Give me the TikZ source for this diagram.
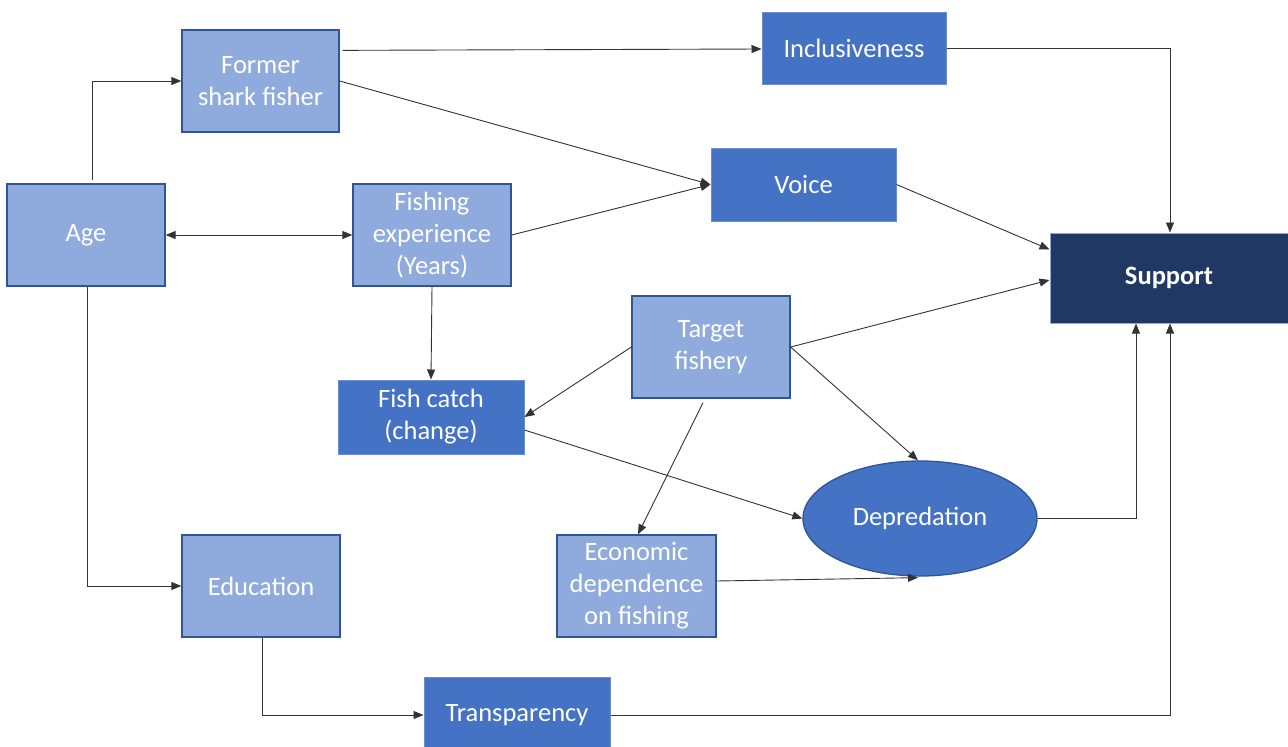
\documentclass[tikz,border=0pt]{standalone}
\usepackage{fontspec}
\setmainfont{Carlito}
\usetikzlibrary{arrows.meta,calc,shapes.geometric}
\definecolor{lightb}{HTML}{8FAADC}
\definecolor{midb}{HTML}{4472C4}
\definecolor{darkb}{HTML}{203864}
\definecolor{edgeb}{HTML}{2F5597}
\begin{document}
\begin{tikzpicture}[x=1pt,y=-1pt,
 every node/.style={font=\fontsize{26.5}{32}\selectfont, text=white, align=center, inner sep=0pt},
 lbox/.style={rectangle, fill=lightb, draw=edgeb, line width=1.3pt},
 mbox/.style={rectangle, fill=midb, draw=lightb!50!midb, line width=1pt},
 sbox/.style={rectangle, fill=darkb, draw=lightb, line width=1pt, font=\fontsize{26.5}{32}\selectfont\bfseries},
 ebox/.style={ellipse, fill=midb, draw=edgeb, line width=1.3pt},
 tip/.style={Triangle[length=10pt,width=8pt]},
 conn/.style={draw=black!80, line width=0.9pt, -{Triangle[length=10pt,width=8pt]}},
]
\useasboundingbox[fill=white] (0,0) rectangle (1288,747);

\node[lbox, minimum width=157pt, minimum height=102pt] (former) at (260.5,81) {Former\\shark fisher};
\node[lbox, minimum width=158pt, minimum height=102pt] (age) at (86,235) {Age};
\node[lbox, minimum width=158pt, minimum height=102pt] (fexp) at (432,235) {Fishing\\experience\\(Years)};
\node[mbox, minimum width=184pt, minimum height=72pt] (incl) at (854,48) {Inclusiveness};
\node[mbox, minimum width=185pt, minimum height=73pt] (voice) at (803.5,184.5) {Voice};
\node[sbox, minimum width=238pt, minimum height=90pt] (support) at (1169,278) {Support};
\node[lbox, minimum width=158pt, minimum height=102pt] (target) at (711,347) {Target\\fishery};
\node[mbox, minimum width=186pt, minimum height=74pt] (catch) at (431,417) {Fish catch\\(change)};
\node[ebox, minimum width=234pt, minimum height=115pt] (depr) at (920,518.5) {Depredation};
\node[lbox, minimum width=159pt, minimum height=102pt] (econ) at (636.5,586) {Economic\\dependence\\on fishing};
\node[lbox, minimum width=158pt, minimum height=102pt] (edu) at (261,586) {Education};
\node[mbox, minimum width=186pt, minimum height=76pt] (transp) at (517,715) {Transparency};

\draw[conn] ($(age.north)+(6,-3)$) |- (former.west);
\draw[conn, {Triangle[length=10pt,width=8pt]}-{Triangle[length=10pt,width=8pt]}] (age.east) -- (fexp.west);
\draw[conn] ($(age.south)+(1,0)$) |- (edu.west);
\draw[conn] ($(edu.south)+(1,0)$) |- (transp.west);
\draw[conn] (transp.east) -| ($(support.south)+(1,0)$);
\draw[conn] ($(former.north east)+(3,21)$) -- ($(incl.west)+(0,1)$);
\draw[conn] (former.east) -- (voice.west);
\draw[conn] (fexp.east) -- (voice.west);
\draw[conn] (incl.east) -| ($(support.north)+(1,0)$);
\draw[conn] (voice.east) -- ($(support.north west)+(0,17)$);
\draw[conn] (target.east) -- ($(support.west)+(0,2)$);
\draw[conn] (fexp.south) -- (catch.north);
\draw[conn] (target.west) -- (catch.east);
\draw[conn] (target.east) -- ($(depr.north)+(-2,0)$);
\draw[conn] ($(target.south)+(-8,4)$) -- ($(econ.north)+(1.5,0)$);
\draw[conn] ($(catch.east)+(0,13)$) -- (depr.west);
\draw[conn] ($(econ.east)+(0,-5)$) -- ($(depr.south)+(-2,1)$);
\draw[conn] (depr.east) -| ($(support.south)+(-33,0)$);
\end{tikzpicture}
\end{document}
